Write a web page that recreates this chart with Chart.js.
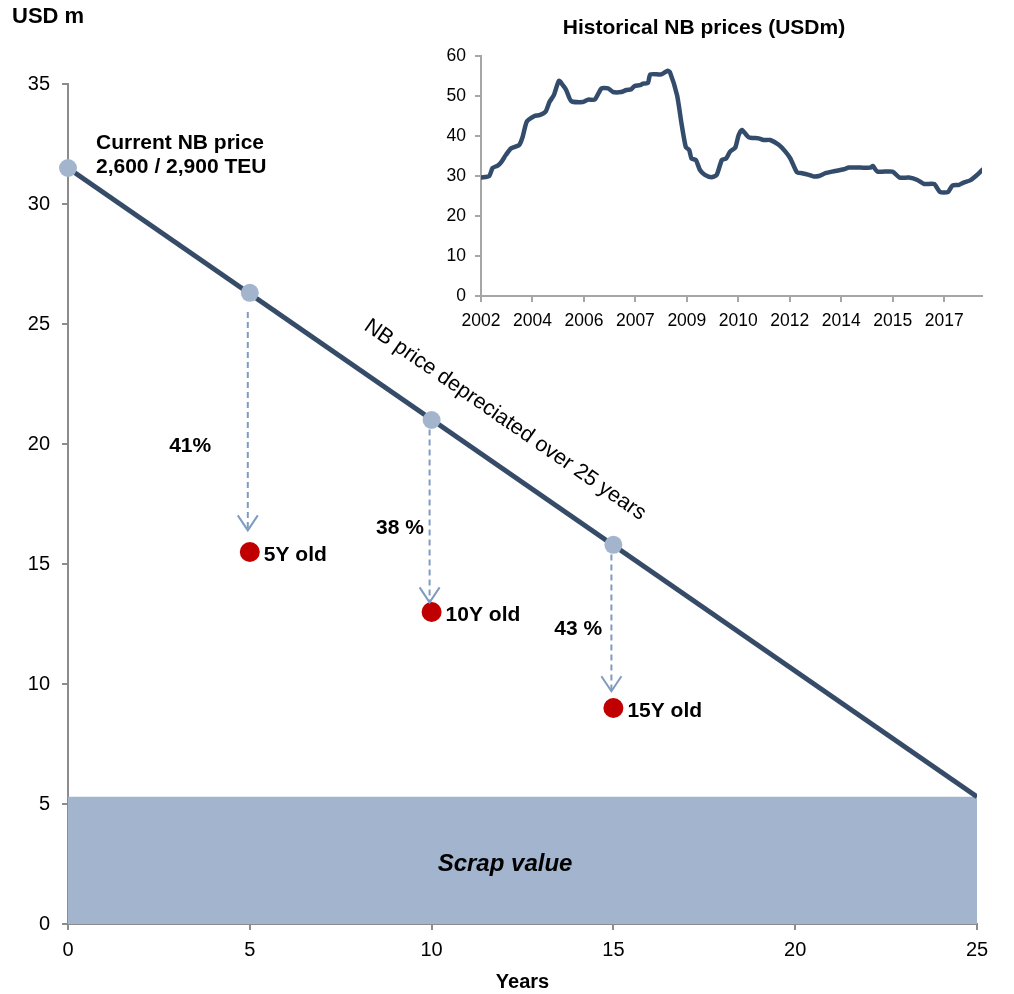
<!DOCTYPE html>
<html>
<head>
<meta charset="utf-8">
<script src="https://cdn.jsdelivr.net/npm/chart.js@4.4.1/dist/chart.umd.min.js"></script>
<style>
  html, body { margin: 0; padding: 0; background: #fff; }
  #wrap { position: relative; width: 1014px; height: 994px; }
  #mainChart { position: absolute; left: 0; top: 0; }
  #histChart { position: absolute; left: 420px; top: 0; }
</style>
</head>
<body>
<div id="wrap">
  <canvas id="mainChart" width="1014" height="994"></canvas>
  <canvas id="histChart" width="594" height="340"></canvas>
</div>
<script>
// depreciation line (years, USD m)
const lineYears = [0, 25];
const lineValues = [31.5, 5.3];
const scrapValue = 5.3;

// NB price points on the line
const nbYears = [0, 5, 10, 15];
const nbValues = [31.5, 26.3, 21.0, 15.8];

// second-hand values
const usedYears = [5, 10, 15];
const usedValues = [15.5, 13.0, 9.0];
const usedLabels = ['5Y old', '10Y old', '15Y old'];
const dropLabels = ['41%', '38 %', '43 %'];
const arrowStarts = [25.5, 20.6, 15.4];
const arrowTips = [16.4, 13.4, 9.7];

// historical NB prices (inset), x in axis steps (20 per tick label)
const histTickLabels = ['2002', '2004', '2006', '2007', '2009', '2010', '2012', '2014', '2015', '2017'];
const histIndex = [0, 3.2, 4.5, 6.5, 7.8, 9.7, 11.7, 14.9, 16.2, 17.8,
  20.8, 22.7, 25.1, 26.6, 28.3, 30.3, 31.8, 33.1, 35.1, 39.6,
  41.6, 44.2, 46.8, 49.4, 51.3, 54.5, 56.5, 58.4, 59.7, 61.7,
  63, 64.9, 65.8, 70.1, 72.5, 73.4, 76.2, 77.9, 79.6, 80.9,
  81.8, 83.5, 85.1, 87, 89.6, 91.6, 93.6, 95.3, 96.8, 98.8,
  100.1, 101.4, 104, 107.9, 109.8, 112.4, 115.7, 118.3, 120.2, 122.8,
  124.8, 127.4, 129.3, 131.3, 133.9, 136.5, 141, 143, 147.5, 151.4,
  152.3, 154, 159.9, 162.7, 166.3, 169.6, 172.2, 176.1, 178.4, 181.5,
  183.2, 185.8, 187.8, 190.1, 192.3, 194.7];
const histPrice = [29.6, 30.0, 32.0, 32.6, 33.4, 35.3, 36.9, 37.8, 39.8, 43.6,
  45.0, 45.2, 46.1, 48.5, 50.2, 53.8, 52.7, 51.5, 48.7, 48.5,
  49.1, 49.1, 51.9, 51.9, 51.0, 51.0, 51.5, 51.7, 52.5, 52.7,
  53.1, 53.3, 55.4, 55.4, 56.3, 56.0, 50.2, 43.2, 37.2, 36.5,
  34.4, 34.0, 31.5, 30.3, 29.7, 30.3, 34.0, 34.4, 36.1, 37.1,
  40.2, 41.5, 39.7, 39.4, 39.0, 39.0, 37.8, 36.1, 34.4, 30.9,
  30.7, 30.3, 29.9, 30.0, 30.7, 31.1, 31.7, 32.1, 32.1, 32.1,
  32.5, 31.1, 31.1, 29.6, 29.6, 29.0, 28.0, 28.0, 26.0, 26.0,
  27.6, 27.8, 28.4, 28.9, 30.0, 31.5];

const FONT = '"Liberation Sans", Arial, sans-serif';
const navy = '#364b68';
const lightBlue = '#a3b5cd';
const red = '#c00000';
const arrowColor = '#7f9bc1';
const axisGrey = '#8c8c8c';

const pts = (xs, ys) => xs.map((x, i) => ({ x, y: ys[i] }));

// text + arrows drawn in data space
const notesPlugin = {
  id: 'notes',
  afterDatasetsDraw(chart) {
    const { ctx, scales: { x, y } } = chart;
    ctx.save();

    // dashed arrows
    ctx.strokeStyle = arrowColor;
    ctx.lineWidth = 2;
    usedYears.forEach((yr, i) => {
      const px = x.getPixelForValue(yr) - 2;
      const y0 = y.getPixelForValue(arrowStarts[i]);
      const y1 = y.getPixelForValue(arrowTips[i]);
      ctx.setLineDash([6, 4]);
      ctx.beginPath();
      ctx.moveTo(px, y0);
      ctx.lineTo(px, y1);
      ctx.stroke();
      ctx.setLineDash([]);
      ctx.beginPath();
      ctx.moveTo(px - 10, y1 - 15);
      ctx.lineTo(px, y1);
      ctx.lineTo(px + 10, y1 - 15);
      ctx.stroke();
    });

    ctx.fillStyle = '#000';
    ctx.textBaseline = 'middle';

    // current NB price label
    ctx.font = 'bold 21px ' + FONT;
    ctx.textAlign = 'left';
    ctx.fillText('Current NB price', x.getPixelForValue(0.77), y.getPixelForValue(32.54));
    ctx.fillText('2,600 / 2,900 TEU', x.getPixelForValue(0.77), y.getPixelForValue(31.54));

    // drop percentages
    const dropPos = [[3.36, 19.9], [9.13, 16.5], [14.03, 12.3]];
    ctx.textAlign = 'center';
    dropLabels.forEach((t, i) => {
      ctx.fillText(t, x.getPixelForValue(dropPos[i][0]), y.getPixelForValue(dropPos[i][1]));
    });

    // age labels next to red dots
    ctx.textAlign = 'left';
    usedLabels.forEach((t, i) => {
      ctx.fillText(t, x.getPixelForValue(usedYears[i]) + 14, y.getPixelForValue(usedValues[i]) + 3);
    });

    // rotated label along the line
    const ax = x.getPixelForValue(lineYears[0]), ay = y.getPixelForValue(lineValues[0]);
    const bx = x.getPixelForValue(lineYears[1]), by = y.getPixelForValue(lineValues[1]);
    const ang = Math.atan2(by - ay, bx - ax);
    ctx.save();
    ctx.translate(x.getPixelForValue(12.02), y.getPixelForValue(21.0));
    ctx.rotate(ang);
    ctx.font = '21.5px ' + FONT;
    ctx.textAlign = 'center';
    ctx.fillText('NB price depreciated over 25 years', 0, 0);
    ctx.restore();

    // scrap value
    ctx.font = 'italic bold 24px ' + FONT;
    ctx.textAlign = 'center';
    ctx.fillText('Scrap value', x.getPixelForValue(12.02), y.getPixelForValue(2.5));

    // unit label
    ctx.font = 'bold 22px ' + FONT;
    ctx.textAlign = 'left';
    ctx.fillText('USD m', 12, 17);

    ctx.restore();
  }
};

new Chart(document.getElementById('mainChart'), {
  type: 'line',
  data: {
    datasets: [
      {
        label: 'Scrap value',
        data: pts(lineYears, lineYears.map(() => scrapValue)),
        fill: 'origin',
        backgroundColor: '#a2b4ce',
        borderWidth: 0,
        pointRadius: 0,
        order: 5
      },
      {
        label: 'NB price depreciated',
        data: pts(lineYears, lineValues),
        borderColor: navy,
        borderWidth: 5,
        pointRadius: 0,
        fill: false,
        order: 4
      },
      {
        label: 'NB price',
        data: pts(nbYears, nbValues),
        showLine: false,
        pointRadius: 9,
        pointBackgroundColor: lightBlue,
        pointBorderWidth: 0,
        clip: false,
        order: 2
      },
      {
        label: 'Second-hand',
        data: pts(usedYears, usedValues),
        showLine: false,
        pointRadius: 10,
        pointBackgroundColor: red,
        pointBorderWidth: 0,
        clip: false,
        order: 1
      }
    ]
  },
  options: {
    responsive: false,
    animation: false,
    layout: { padding: { top: 84, right: 37, left: 0, bottom: 0 } },
    plugins: { legend: { display: false }, tooltip: { enabled: false } },
    scales: {
      x: {
        type: 'linear',
        min: 0, max: 25,
        ticks: { stepSize: 5, color: '#000', font: { family: FONT, size: 20 }, padding: 8 },
        grid: { drawOnChartArea: false, drawTicks: true, tickLength: 6, color: axisGrey, lineWidth: 2 },
        border: { color: axisGrey, width: 2 },
        title: { display: true, text: 'Years', color: '#000', font: { family: FONT, size: 20, weight: 'bold' }, padding: { top: 0, bottom: 0 } },
        afterFit(scale) { scale.height = 70; }
      },
      y: {
        min: 0, max: 35,
        ticks: { stepSize: 5, color: '#000', font: { family: FONT, size: 20 }, padding: 12 },
        grid: { drawOnChartArea: false, drawTicks: true, tickLength: 6, color: axisGrey, lineWidth: 2 },
        border: { color: axisGrey, width: 2 },
        afterFit(scale) { scale.width = 68; }
      }
    }
  },
  plugins: [notesPlugin]
});

// inset: historical NB prices
const histTitle = {
  id: 'histTitle',
  afterDraw(chart) {
    const ctx = chart.ctx;
    ctx.save();
    ctx.font = 'bold 21px ' + FONT;
    ctx.fillStyle = '#000';
    ctx.textAlign = 'center';
    ctx.textBaseline = 'middle';
    ctx.fillText('Historical NB prices (USDm)', 284, 28);
    ctx.restore();
  }
};

new Chart(document.getElementById('histChart'), {
  type: 'line',
  data: {
    datasets: [{
      label: 'NB price',
      data: pts(histIndex, histPrice),
      borderColor: '#344c6c',
      borderWidth: 4.5,
      borderJoinStyle: 'round',
      borderCapStyle: 'round',
      pointRadius: 0,
      tension: 0.2,
      fill: false
    }]
  },
  options: {
    responsive: false,
    animation: false,
    layout: { padding: { top: 56, right: 32, left: 0, bottom: 0 } },
    plugins: { legend: { display: false }, tooltip: { enabled: false } },
    scales: {
      x: {
        type: 'linear',
        min: 0, max: 194.7,
        afterBuildTicks(scale) {
          scale.ticks = histTickLabels.map((_, i) => ({ value: i * 20 }));
        },
        ticks: {
          color: '#000', font: { family: FONT, size: 17.5 }, padding: 9, maxRotation: 0, autoSkip: false,
          callback: (v) => histTickLabels[Math.round(v / 20)]
        },
        grid: { drawOnChartArea: false, drawTicks: true, tickLength: 6, color: '#a6a6a6', lineWidth: 2 },
        border: { color: '#a6a6a6', width: 2 },
        afterFit(scale) { scale.height = 44; }
      },
      y: {
        min: 0, max: 60,
        ticks: { stepSize: 10, color: '#000', font: { family: FONT, size: 17.5 }, padding: 9 },
        grid: { drawOnChartArea: false, drawTicks: true, tickLength: 6, color: '#a6a6a6', lineWidth: 2 },
        border: { color: '#a6a6a6', width: 2 },
        afterFit(scale) { scale.width = 61; }
      }
    }
  },
  plugins: [histTitle]
});
</script>
</body>
</html>
